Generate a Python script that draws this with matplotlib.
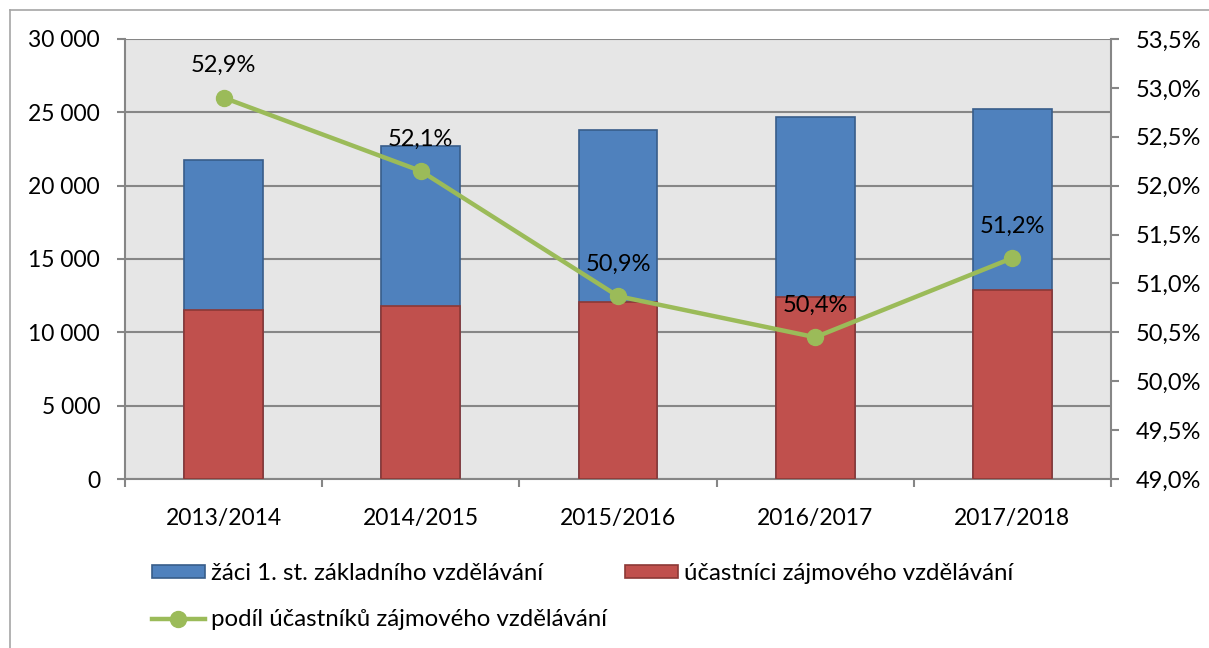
from matplotlib import pyplot as plt
from matplotlib.lines import Line2D
from matplotlib.ticker import FuncFormatter, FixedLocator
import numpy as np

years = ['2013/2014', '2014/2015', '2015/2016', '2016/2017', '2017/2018']
zaci = [21750, 22700, 23800, 24650, 25200]
ucastnici = [11520, 11810, 12100, 12380, 12900]
podil = [52.9, 52.15, 50.87, 50.45, 51.26]
podil_labels = ['52,9%', '52,1%', '50,9%', '50,4%', '51,2%']

BLUE = '#4F81BD'
RED = '#C0504D'
GREEN = '#9BBB59'
GRID = '#868686'

plt.rcParams['font.family'] = ['Lato', 'DejaVu Sans']

fig = plt.figure(figsize=(12.09, 6.48), dpi=100)
ax = fig.add_axes([125 / 1209, 1 - 479 / 648, 986 / 1209, 440 / 648])
ax.set_facecolor('#E6E6E6')

x = np.arange(len(years))
b1 = ax.bar(x, zaci, width=0.4, color=BLUE, edgecolor='#385D8A', linewidth=1.2, zorder=2,
            label='žáci 1. st. základního vzdělávání')
b2 = ax.bar(x, ucastnici, width=0.4, color=RED, edgecolor='#8C3836', linewidth=1.2, zorder=3,
            label='účastníci zájmového vzdělávání')

ax.set_xlim(-0.5, len(years) - 0.5)
ax.set_ylim(0, 30000)
ax.set_yticks(np.arange(0, 30001, 5000))
ax.yaxis.set_major_formatter(FuncFormatter(lambda v, p: f'{int(v):,}'.replace(',', ' ')))
ax.grid(axis='y', color=GRID, linewidth=1.5, zorder=1)
ax.set_axisbelow(True)

ax.set_xticks(x)
ax.set_xticklabels(years)
ax.xaxis.set_minor_locator(FixedLocator(np.arange(-0.5, len(years), 1.0)))
ax.tick_params(axis='x', which='major', length=0, pad=21, labelsize=16.5)
ax.tick_params(axis='x', which='minor', length=6, width=1.5, color=GRID)
ax.tick_params(axis='y', length=6, width=1.5, color=GRID, pad=12, labelsize=16.5)

for s in ['top', 'right']:
    ax.spines[s].set_visible(False)
for s in ['left', 'bottom']:
    ax.spines[s].set_color(GRID)
    ax.spines[s].set_linewidth(1.5)

ax2 = ax.twinx()
ln, = ax2.plot(x, podil, color=GREEN, linewidth=3.2, marker='o', markersize=11.5,
               label='podíl účastníků zájmového vzdělávání', zorder=4)
ax2.set_ylim(49, 53.5)
ax2.set_yticks(np.arange(49, 53.51, 0.5))
ax2.yaxis.set_major_formatter(FuncFormatter(lambda v, p: f'{v:.1f}%'.replace('.', ',')))
ax2.tick_params(axis='y', length=6, width=1.5, color=GRID, pad=12, labelsize=17)
for s in ['top', 'left', 'bottom']:
    ax2.spines[s].set_visible(False)
ax2.spines['right'].set_color(GRID)
ax2.spines['right'].set_linewidth(1.5)

for xi, yi, t in zip(x, podil, podil_labels):
    ax2.annotate(t, (xi, yi), xytext=(0, 23), textcoords='offset points',
                 ha='center', va='center', fontsize=17, zorder=5)

fig.legend([b1, ln, b2], [b1.get_label(), ln.get_label(), b2.get_label()],
           ncol=2, loc='upper left', bbox_to_anchor=(140 / 1209, 1 - 551 / 648),
           frameon=False, fontsize=17.3, handlelength=2.2, handleheight=0.5,
           handletextpad=0.25, columnspacing=0.75, labelspacing=1.05, borderpad=0)

# outer chart frame
fig.add_artist(Line2D([10 / 1209, 10 / 1209], [0, 1 - 10 / 648], color='#A6A6A6', linewidth=1.2))
fig.add_artist(Line2D([10 / 1209, 1], [1 - 10 / 648, 1 - 10 / 648], color='#A6A6A6', linewidth=1.2))

fig.savefig('out.png', dpi=100)
